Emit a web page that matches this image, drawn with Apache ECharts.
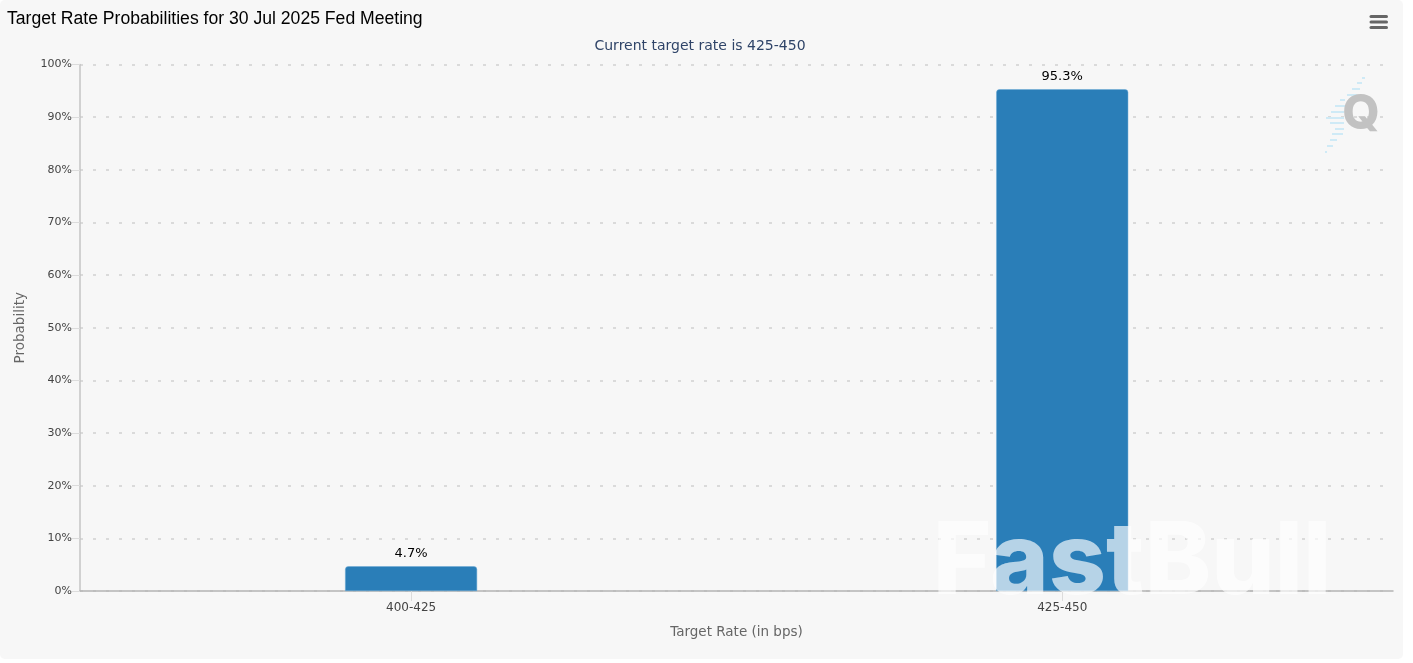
<!DOCTYPE html>
<html>
<head>
<meta charset="utf-8">
<style>
  html, body { margin: 0; padding: 0; background: #fff; }
  #chart { width: 1403px; height: 659px; border-radius: 5px; overflow: hidden; }
</style>
<script src="https://cdn.jsdelivr.net/npm/echarts@6/dist/echarts.min.js"></script>
</head>
<body>
<div id="chart"></div>
<script>
const categories = ['400-425', '425-450'];
const probabilities = [4.7, 95.3];
const yTicks = [0, 10, 20, 30, 40, 50, 60, 70, 80, 90, 100];

const chart = echarts.init(document.getElementById('chart'), null, { renderer: 'canvas' });
const uiFont = '"DejaVu Sans", Verdana, sans-serif';

// blue stripes of the Q logo
const stripes = [
  [1362, 77, 3], [1357, 82, 5], [1352, 88, 8], [1347, 94, 10], [1340, 99, 5],
  [1335, 105, 10], [1331, 111, 13], [1326, 117, 18], [1330, 122, 14], [1335, 128, 9],
  [1332, 133, 11], [1330, 139, 7], [1327, 145, 6], [1325, 151, 2]
].map(([x, y, w]) => ({
  type: 'rect',
  silent: true,
  z: 1,
  shape: { x, y, width: w, height: 2 },
  style: { fill: '#cfeaf6' }
}));

chart.setOption({
  animation: false,
  backgroundColor: '#f7f7f7',
  textStyle: { fontFamily: uiFont },
  title: [
    {
      text: 'Target Rate Probabilities for 30 Jul 2025 Fed Meeting',
      left: 2, top: 5,
      textStyle: { fontFamily: '"Liberation Sans", Arial, sans-serif', fontSize: 17.6, fontWeight: 'normal', color: '#000' }
    },
    {
      text: 'Current target rate is 425-450',
      left: 695, top: 34, textAlign: 'center',
      textStyle: { fontFamily: uiFont, fontSize: 14, fontWeight: 'normal', color: '#2f4468' }
    }
  ],
  grid: { left: 80, right: 10, top: 64.5, bottom: 68 },
  xAxis: {
    type: 'value',
    min: -0.5085,
    max: 1.508,
    name: 'Target Rate (in bps)',
    nameLocation: 'middle',
    nameGap: 34,
    nameTextStyle: { color: '#666', fontSize: 13.5 },
    splitLine: { show: false },
    axisLine: { show: true, onZero: false, lineStyle: { color: '#b4b4b4', width: 1.5 } },
    axisTick: { show: true, customValues: [0, 1], length: 10, lineStyle: { color: '#dcdcdc' } },
    axisLabel: {
      customValues: [0, 1],
      formatter: (v) => categories[v],
      color: '#444', fontSize: 12, margin: 11
    }
  },
  yAxis: {
    type: 'value',
    min: yTicks[0],
    max: yTicks[yTicks.length - 1],
    interval: 10,
    name: 'Probability',
    nameLocation: 'middle',
    nameGap: 53,
    nameTextStyle: { color: '#666', fontSize: 13.5 },
    axisLine: { show: true, onZero: false, lineStyle: { color: '#c4c4c4', width: 1.5 } },
    axisTick: { show: true, length: 8, lineStyle: { color: '#dcdcdc' } },
    axisLabel: { formatter: '{value}%', color: '#444', fontSize: 11, margin: 8 },
    splitLine: { show: true, lineStyle: { color: '#dadada', type: [3, 10], width: 2 } }
  },
  series: [
    {
      type: 'bar',
      barWidth: 132,
      data: probabilities.map((p, i) => [i, p]),
      itemStyle: { color: '#2a7eb8', borderRadius: [3, 3, 0, 0], borderColor: '#6aa9d4', borderWidth: 0.5 },
      label: {
        show: true,
        position: 'top',
        distance: 6,
        formatter: (p) => p.value[1] + '%',
        color: '#000',
        fontSize: 13
      },
      z: 2
    }
  ],
  graphic: [
    // menu icon
    { type: 'rect', silent: true, shape: { x: 1369.5, y: 15, width: 18.5, height: 3, r: 1.5 }, style: { fill: '#666' } },
    { type: 'rect', silent: true, shape: { x: 1369.5, y: 20.5, width: 18.5, height: 3, r: 1.5 }, style: { fill: '#666' } },
    { type: 'rect', silent: true, shape: { x: 1369.5, y: 26, width: 18.5, height: 3, r: 1.5 }, style: { fill: '#666' } },
    ...stripes,
    {
      type: 'text', silent: true, z: 2,
      style: { x: 1361, y: 115, text: 'Q', align: 'center', verticalAlign: 'middle', font: '800 48px Inter, sans-serif', fill: '#c2c2c2' }
    },
    {
      type: 'text', silent: true, z: 100,
      style: {
        x: 1132, y: 564, text: 'FastBull', align: 'center', verticalAlign: 'middle',
        font: '800 100px Inter, sans-serif',
        fill: 'rgba(255,255,255,0.66)',
        shadowColor: 'rgba(0,0,0,0.1)', shadowBlur: 14, shadowOffsetY: 8
      }
    }
  ]
});
</script>
</body>
</html>
